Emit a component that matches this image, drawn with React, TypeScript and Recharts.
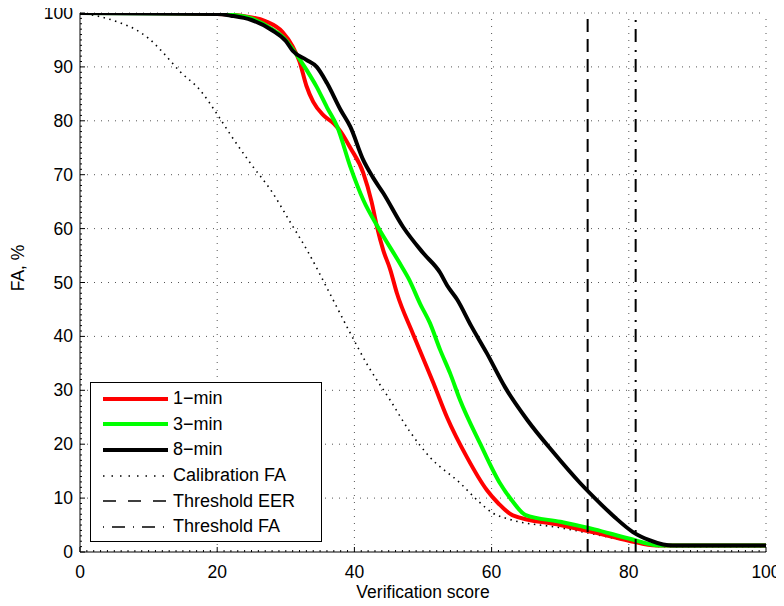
import { LineChart, Line, XAxis, YAxis, ReferenceLine } from 'recharts'

const scoreRed = [0, 10, 20, 24, 27, 29.5, 31, 32, 33, 34, 35.5, 37, 38, 39.4, 41.3, 42.5, 43.3, 44.2, 45.2, 46.2, 48.5, 50, 51.5, 53.5, 56.4, 59.3, 61, 63.1, 70, 75, 80, 84, 86, 100]
const faRed = [100, 100, 99.8, 99.4, 98.5, 96.5, 93.8, 91, 86.5, 83.5, 81, 79.5, 78, 75, 70.3, 65, 60.3, 56, 52.5, 48, 40.6, 36, 31.4, 25, 17.6, 11.5, 9, 6.8, 5, 3.6, 2.1, 1.2, 1.2, 1.2]

const scoreGreen = [0, 20, 22, 25, 28, 30, 31, 33, 34.5, 36, 37.5, 39.4, 41.3, 43.7, 46.6, 48, 49.6, 51, 52.5, 54, 55.4, 58.3, 61.2, 63, 64.9, 70, 75, 80, 84.5, 86, 100]
const faGreen = [100, 99.9, 99.7, 99, 97, 95, 93.3, 89.5, 86.3, 82.5, 78.9, 71.5, 65.3, 59.7, 53.6, 50.5, 46, 42.5, 37.5, 33, 28.2, 20.2, 12.8, 9.5, 6.9, 5.6, 4.2, 2.5, 1.2, 1.2, 1.2]

const scoreBlack = [0, 20, 22, 25, 28, 30, 31, 33, 34.5, 36, 38, 39.4, 41.3, 42.7, 44.2, 47.1, 50, 52.5, 53.5, 55, 57, 59.3, 62, 65.2, 69, 72.9, 76, 78, 80.6, 83, 85, 86.4, 100]
const faBlack = [100, 99.8, 99.5, 98.7, 96.8, 94.8, 93, 91.3, 90, 87, 82, 78.9, 72.7, 69.5, 66.6, 60.3, 55.5, 51.8, 49.5, 46.8, 42, 36.9, 30.5, 24.5, 18.5, 12.8, 8.8, 6.4, 3.7, 2.2, 1.4, 1.2, 1.2]

const scoreCalib = [0, 3, 6, 8, 10, 12, 14.6, 17.5, 19.9, 22, 24.8, 28.1, 30.5, 33.1, 36.4, 39.4, 42, 45.2, 48, 51, 55.4, 58, 60.2, 62.5, 70, 75, 80, 85, 100]
const faCalib = [100, 99.3, 98.1, 97, 95.3, 92.8, 89.1, 85.7, 81.4, 77.3, 72.2, 66.6, 61.5, 56, 48, 40.6, 34.5, 28.2, 22.5, 17.6, 12.8, 9.5, 7.2, 6.1, 4.5, 3.3, 2.0, 1.0, 1.0]

const thresholdEER = 74
const thresholdFA = 81

const xMajor = [0, 20, 40, 60, 80, 100]
const yMajor = [0, 10, 20, 30, 40, 50, 60, 70, 80, 90, 100]
const minorTicks = Array.from({ length: 101 }, (_, i) => i)

const FONT = '"Liberation Sans", Arial, Helvetica, sans-serif'
const PLOT_LEFT = 80
const PLOT_BOTTOM = 552

const zip = (xs: number[], ys: number[]) => xs.map((x, i) => ({ x, y: ys[i] }))

const XTick = (props: any) => {
  const { x, payload } = props
  const v = payload.value
  const major = xMajor.includes(v)
  return (
    <g>
      <line x1={x} x2={x} y1={PLOT_BOTTOM} y2={PLOT_BOTTOM - (major ? 5 : 2)} stroke="#000" strokeWidth={1} />
      {major && (
        <text x={x} y={PLOT_BOTTOM + 26} textAnchor="middle" fontSize={17.5} fontFamily={FONT} fill="#000">
          {v}
        </text>
      )}
    </g>
  )
}

const YTick = (props: any) => {
  const { y, payload } = props
  const v = payload.value
  const major = yMajor.includes(v)
  return (
    <g>
      <line x1={PLOT_LEFT} x2={PLOT_LEFT + (major ? 5 : 2)} y1={y} y2={y} stroke="#000" strokeWidth={1} />
      {major && (
        <text x={PLOT_LEFT - 7} y={y + 6} textAnchor="end" fontSize={17.5} fontFamily={FONT} fill="#000">
          {v}
        </text>
      )}
    </g>
  )
}

const legendItems = [
  { label: '1\u2212min', color: '#ff0000', width: 4, dash: undefined },
  { label: '3\u2212min', color: '#00ff00', width: 4, dash: undefined },
  { label: '8\u2212min', color: '#000000', width: 4, dash: undefined },
  { label: 'Calibration FA', color: '#000000', width: 1.5, dash: '1.5 7' },
  { label: 'Threshold EER', color: '#000000', width: 1.5, dash: '13 12' },
  { label: 'Threshold FA', color: '#000000', width: 1.5, dash: '1 8 13 8' },
]

export default function App() {
  const gridDash = '1 6'
  return (
    <div style={{ margin: -8, position: 'relative', width: 784, height: 606, background: '#fff' }}>
      <LineChart width={784} height={606} margin={{ top: 13, right: 18, bottom: 0, left: 8 }}>
        <XAxis
          dataKey="x"
          type="number"
          domain={[0, 100]}
          ticks={minorTicks}
          interval={0}
          tick={<XTick />}
          tickLine={false}
          axisLine={{ stroke: '#000', strokeWidth: 1 }}
          height={54}
          allowDataOverflow
        />
        <YAxis
          type="number"
          domain={[0, 100]}
          ticks={minorTicks}
          interval={0}
          tick={<YTick />}
          tickLine={false}
          axisLine={{ stroke: '#000', strokeWidth: 1 }}
          width={72}
          allowDataOverflow
        />
        {xMajor.slice(1).map((v) => (
          <ReferenceLine key={'gx' + v} x={v} stroke="#555" strokeDasharray={gridDash} strokeWidth={1} />
        ))}
        {yMajor.slice(1).map((v) => (
          <ReferenceLine key={'gy' + v} y={v} stroke="#555" strokeDasharray={gridDash} strokeWidth={1} />
        ))}
        <Line data={zip(scoreCalib, faCalib)} dataKey="y" type="monotone" stroke="#000" strokeWidth={1.6} strokeDasharray="1.5 4.5" dot={false} isAnimationActive={false} />
        <Line data={zip(scoreRed, faRed)} dataKey="y" type="monotone" stroke="#ff0000" strokeWidth={4} dot={false} isAnimationActive={false} />
        <Line data={zip(scoreGreen, faGreen)} dataKey="y" type="monotone" stroke="#00ff00" strokeWidth={4} dot={false} isAnimationActive={false} />
        <Line data={zip(scoreBlack, faBlack)} dataKey="y" type="monotone" stroke="#000" strokeWidth={4} dot={false} isAnimationActive={false} />
        <ReferenceLine x={thresholdEER} stroke="#000" strokeWidth={2} strokeDasharray="13 7" />
        <ReferenceLine x={thresholdFA} stroke="#000" strokeWidth={2} strokeDasharray="13 7 2 8" />
        <text x={423} y={598} textAnchor="middle" fontSize={17.5} fontFamily={FONT} fill="#000">
          Verification score
        </text>
        <text x={24} y={268} textAnchor="middle" fontSize={17.5} fontFamily={FONT} fill="#000" transform="rotate(-90 24 268)">
          FA, %
        </text>
      </LineChart>
      <div
        style={{
          position: 'absolute',
          left: 90,
          top: 382,
          width: 232,
          height: 160,
          border: '1px solid #000',
          background: '#fff',
          boxSizing: 'border-box',
          fontFamily: FONT,
          fontSize: 18,
          paddingTop: 3,
        }}
      >
        {legendItems.map((it) => (
          <div key={it.label} style={{ display: 'flex', alignItems: 'center', height: 25.6 }}>
            <svg width={82} height={10} style={{ flex: 'none' }}>
              <line x1={12} x2={77} y1={5} y2={5} stroke={it.color} strokeWidth={it.width} strokeDasharray={it.dash} />
            </svg>
            <span style={{ whiteSpace: 'nowrap' }}>{it.label}</span>
          </div>
        ))}
      </div>
    </div>
  )
}
